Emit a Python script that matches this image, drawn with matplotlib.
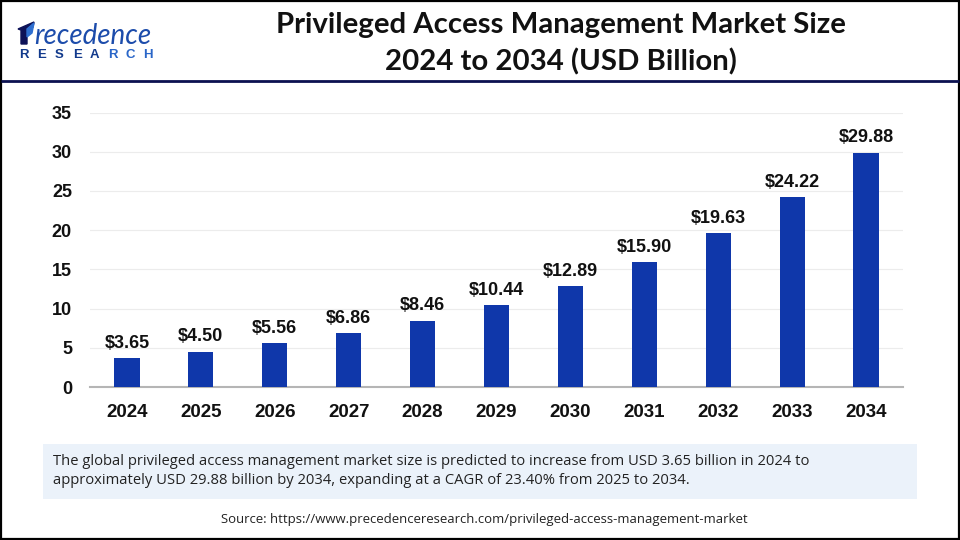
import matplotlib
matplotlib.use('Agg')
import matplotlib.pyplot as plt
from matplotlib.patches import Rectangle, Polygon

years = ['2024', '2025', '2026', '2027', '2028', '2029', '2030', '2031', '2032', '2033', '2034']
values = [3.65, 4.50, 5.56, 6.86, 8.46, 10.44, 12.89, 15.90, 19.63, 24.22, 29.88]
yticks = [0, 5, 10, 15, 20, 25, 30, 35]

title = 'Privileged Access Management Market Size\n2024 to 2034 (USD Billion)'
caption = ('The global privileged access management market size is predicted to increase from USD 3.65 billion in 2024 to\n'
           'approximately USD 29.88 billion by 2034, expanding at a CAGR of 23.40% from 2025 to 2034.')
source = 'Source: https://www.precedenceresearch.com/privileged-access-management-market'

W, H = 960, 540
fig = plt.figure(figsize=(9.6, 5.4), dpi=100)

# overlay in pixel coords for frame, header and footer
bg = fig.add_axes([0, 0, 1, 1])
bg.set_xlim(0, W)
bg.set_ylim(H, 0)
bg.axis('off')

bg.add_patch(Rectangle((0.5, 0.5), W - 1.5, H - 1.5, fill=False, ec='black', lw=1.6))
bg.plot([1, W - 1], [81, 81], color='#0b1150', lw=2.0, solid_capstyle='butt')
bg.text(561, 43.5, title, ha='center', va='center', fontsize=21.2, fontweight='bold',
        family='Lato', color='#111111', linespacing=1.45)

# logo
bg.add_patch(Polygon([(18, 29), (34, 22), (33, 27), (27, 29), (27, 44), (21, 44), (21, 30)], color='#0d1258'))
bg.add_patch(Polygon([(27, 29), (34, 23), (32, 33), (27, 37)], color='#2f6fd0'))
bg.text(34, 44, 'recedence', ha='left', va='baseline', fontsize=20, style='italic',
        family='Lato', color='#1c4cab')
logo_letters = 'RESEARCH'
for i, ch in enumerate(logo_letters):
    bg.text(24 + i * 17.7, 55, ch, ha='center', va='center', fontsize=9.5, fontweight='bold',
            family='Liberation Sans', color='#123a8c' if i < 5 else '#2a66c8')

# caption and source
bg.add_patch(Rectangle((43, 444), 874, 55, color='#ebf2fa', lw=0))
bg.text(53, 471, caption, ha='left', va='center', fontsize=10.6, family='Open Sans',
        color='#222222', linespacing=1.32)
bg.text(484.5, 519, source, ha='center', va='center', fontsize=9.45, family='Open Sans', color='#222222')

# main chart
ax = fig.add_axes([90 / W, 1 - 387 / H, 813 / W, 274.5 / H])
ax.patch.set_alpha(0)
ax.bar(years, values, width=0.34, color='#0f37aa', zorder=3)
for i, v in enumerate(values):
    ax.annotate(f'${v:.2f}', (i, v), xytext=(0, 4.5), textcoords='offset points', ha='center', va='bottom',
                fontsize=13, fontweight='bold', family='Liberation Sans', color='#111111')

ax.set_xlim(-0.5, 10.5)
ax.set_ylim(0, 35)
ax.set_yticks(yticks)
ax.grid(axis='y', color='#ececec', lw=0.8, zorder=0)
ax.set_axisbelow(True)
for s in ['top', 'right', 'left']:
    ax.spines[s].set_visible(False)
ax.spines['bottom'].set_color('#b5b5b5')
ax.spines['bottom'].set_linewidth(1.5)
ax.tick_params(axis='both', length=0)
ax.tick_params(axis='x', pad=12)
ax.tick_params(axis='y', pad=13)
for lab in ax.get_xticklabels():
    lab.set(fontsize=13.5, fontweight='bold', family='Liberation Sans', color='#111111')
for lab in ax.get_yticklabels():
    lab.set(fontsize=13, fontweight='bold', family='Liberation Sans', color='#111111')

fig.savefig('out.png', dpi=100)
